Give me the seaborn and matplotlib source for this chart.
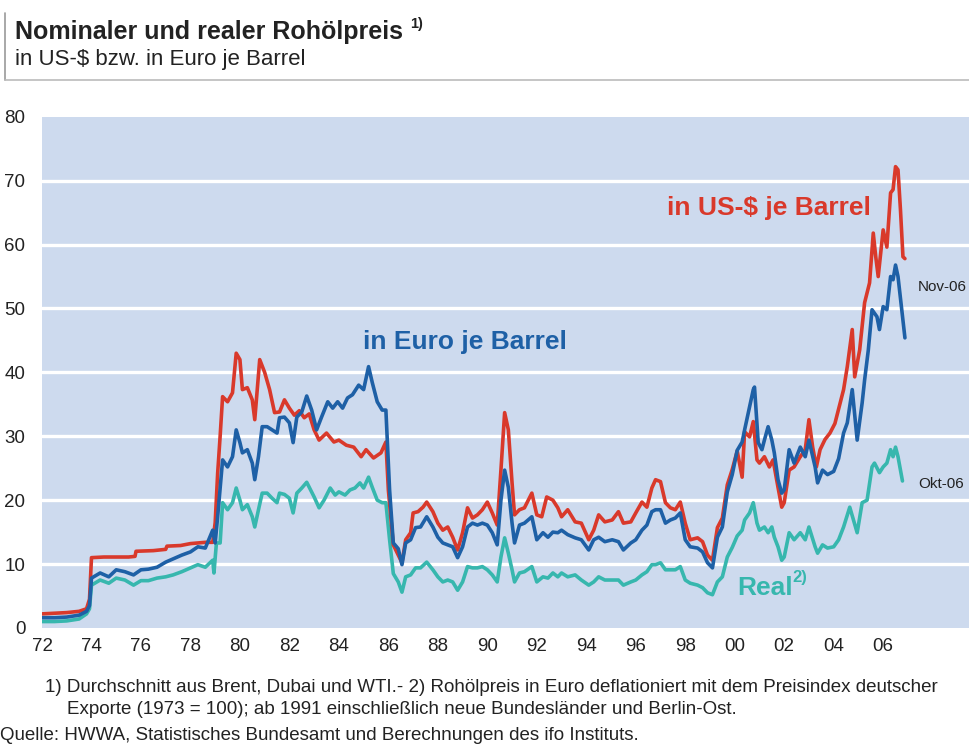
import matplotlib
matplotlib.use("Agg")
import matplotlib.pyplot as plt
import numpy as np
import pandas as pd
import seaborn as sns
from matplotlib.lines import Line2D
from matplotlib.ticker import MultipleLocator

# nominal price in US-$ per barrel (decimal years)
usd_t = [1972.0, 1972.5, 1973.0, 1973.5, 1973.8, 1973.92, 1974.0, 1974.5, 1975.0, 1975.5,
         1975.76, 1975.8, 1976.5, 1977.0, 1977.05, 1977.6, 1978.0, 1978.6, 1978.9, 1979.0,
         1979.1, 1979.2, 1979.3, 1979.5, 1979.7, 1979.85, 1980.0, 1980.1, 1980.3, 1980.5,
         1980.6, 1980.8, 1981.0, 1981.2, 1981.4, 1981.6, 1981.8, 1982.0, 1982.2, 1982.4,
         1982.6, 1982.8, 1983.0, 1983.2, 1983.5, 1983.8, 1984.0, 1984.3, 1984.6, 1984.9,
         1985.1, 1985.4, 1985.7, 1985.9, 1986.0, 1986.2, 1986.4, 1986.55, 1986.7, 1986.9,
         1987.0, 1987.2, 1987.4, 1987.55, 1987.8, 1988.0, 1988.2, 1988.4, 1988.6, 1988.8,
         1989.0, 1989.2, 1989.4, 1989.6, 1989.8, 1990.0, 1990.2, 1990.4, 1990.55, 1990.7,
         1990.85, 1991.0, 1991.1, 1991.3, 1991.5, 1991.8, 1992.0, 1992.2, 1992.4, 1992.65,
         1992.85, 1993.0, 1993.25, 1993.55, 1993.8, 1994.1, 1994.3, 1994.5, 1994.75, 1995.05,
         1995.3, 1995.5, 1995.8, 1996.0, 1996.25, 1996.45, 1996.65, 1996.8, 1997.0, 1997.2,
         1997.4, 1997.6, 1997.8, 1998.0, 1998.2, 1998.5, 1998.7, 1998.9, 1999.1, 1999.3,
         1999.5, 1999.7, 1999.9, 2000.1, 2000.3, 2000.4, 2000.6, 2000.75, 2000.9, 2001.0,
         2001.2, 2001.4, 2001.55, 2001.75, 2001.9, 2002.0, 2002.2, 2002.4, 2002.65, 2002.85,
         2003.0, 2003.15, 2003.3, 2003.45, 2003.65, 2003.85, 2004.05, 2004.25, 2004.4, 2004.55,
         2004.75, 2004.85, 2005.05, 2005.25, 2005.45, 2005.6, 2005.7, 2005.8, 2006.0, 2006.15,
         2006.3, 2006.4, 2006.5, 2006.6, 2006.7, 2006.8, 2006.88]
usd = [2.2, 2.3, 2.4, 2.6, 3.0, 4.5, 11.0, 11.1, 11.1, 11.1,
       11.2, 12.0, 12.1, 12.3, 12.8, 12.9, 13.2, 13.4, 13.4, 16.5,
       24.2, 30.0, 36.2, 35.4, 36.8, 43.0, 42.0, 37.3, 37.6, 35.7,
       32.6, 42.0, 40.0, 37.3, 33.7, 33.8, 35.7, 34.4, 33.3, 34.0,
       32.9, 33.5, 31.0, 29.4, 30.5, 29.1, 29.4, 28.6, 28.3, 26.8,
       27.9, 26.6, 27.4, 29.1, 21.6, 13.0, 11.4, 10.2, 13.8, 14.9,
       18.0, 18.2, 18.9, 19.7, 18.2, 16.4, 15.3, 15.8, 14.2, 12.2,
       14.9, 18.8, 17.2, 17.7, 18.5, 19.7, 18.0, 16.1, 24.7, 33.7,
       31.0, 22.7, 17.7, 18.5, 18.8, 21.1, 17.7, 17.4, 20.5, 20.0,
       18.8, 17.4, 18.5, 16.6, 16.4, 13.8, 15.3, 17.7, 16.6, 16.9,
       18.2, 16.4, 16.6, 18.0, 19.7, 18.9, 21.9, 23.2, 22.9, 19.6,
       18.8, 18.5, 19.7, 16.4, 13.8, 14.1, 13.5, 11.4, 10.6, 15.7,
       17.2, 22.4, 24.8, 27.7, 23.6, 30.7, 29.9, 32.3, 26.3, 25.8,
       26.8, 25.2, 26.3, 22.0, 18.9, 19.6, 24.7, 25.2, 26.8, 27.9,
       32.6, 28.3, 25.2, 27.9, 29.5, 30.5, 32.0, 35.0, 37.3, 40.9,
       46.7, 39.3, 43.5, 50.9, 54.0, 61.8, 58.1, 55.0, 62.3, 59.6,
       68.1, 68.6, 72.2, 71.7, 65.4, 58.1, 57.8]

# nominal price in Euro per barrel
eur_t = [1972.0, 1972.5, 1973.0, 1973.5, 1973.8, 1973.92, 1974.0, 1974.35, 1974.7, 1975.0,
         1975.35, 1975.7, 1976.0, 1976.3, 1976.65, 1977.0, 1977.3, 1977.65, 1978.0, 1978.3,
         1978.6, 1978.9, 1979.0, 1979.1, 1979.3, 1979.5, 1979.7, 1979.85, 1980.0, 1980.1,
         1980.3, 1980.5, 1980.6, 1980.75, 1980.9, 1981.1, 1981.3, 1981.5, 1981.6, 1981.8,
         1982.0, 1982.15, 1982.3, 1982.5, 1982.7, 1982.9, 1983.1, 1983.3, 1983.55, 1983.75,
         1983.95, 1984.15, 1984.35, 1984.55, 1984.8, 1985.0, 1985.2, 1985.35, 1985.55, 1985.75,
         1985.9, 1986.05, 1986.2, 1986.4, 1986.55, 1986.7, 1986.9, 1987.1, 1987.3, 1987.55,
         1987.8, 1988.0, 1988.2, 1988.4, 1988.6, 1988.8, 1989.0, 1989.2, 1989.4, 1989.6,
         1989.8, 1990.0, 1990.2, 1990.4, 1990.55, 1990.7, 1990.85, 1991.0, 1991.1, 1991.3,
         1991.5, 1991.8, 1992.0, 1992.25, 1992.45, 1992.65, 1992.85, 1993.0, 1993.25, 1993.55,
         1993.8, 1994.1, 1994.3, 1994.5, 1994.75, 1995.05, 1995.3, 1995.5, 1995.8, 1996.0,
         1996.25, 1996.45, 1996.65, 1996.8, 1997.0, 1997.2, 1997.4, 1997.6, 1997.8, 1998.0,
         1998.2, 1998.5, 1998.7, 1998.9, 1999.1, 1999.3, 1999.5, 1999.7, 1999.9, 2000.1,
         2000.3, 2000.4, 2000.6, 2000.75, 2000.8, 2000.95, 2001.1, 2001.2, 2001.35, 2001.5,
         2001.6, 2001.75, 2001.9, 2002.0, 2002.2, 2002.4, 2002.65, 2002.85, 2003.0, 2003.25,
         2003.35, 2003.55, 2003.75, 2004.0, 2004.2, 2004.4, 2004.55, 2004.75, 2004.95, 2005.15,
         2005.25, 2005.4, 2005.55, 2005.75, 2005.85, 2006.0, 2006.15, 2006.3, 2006.4, 2006.5,
         2006.6, 2006.75, 2006.88]
eur = [1.6, 1.6, 1.7, 2.0, 2.6, 3.5, 7.8, 8.6, 8.0, 9.1,
       8.8, 8.3, 9.1, 9.2, 9.5, 10.3, 10.8, 11.4, 11.9, 12.7,
       12.5, 15.3, 13.3, 17.4, 26.3, 25.2, 26.8, 31.0, 29.0, 27.4,
       27.9, 25.8, 23.2, 26.8, 31.5, 31.5, 31.0, 30.5, 32.9, 33.0,
       32.1, 29.0, 33.0, 33.8, 36.3, 34.1, 31.0, 33.0, 35.4, 34.4,
       35.4, 34.4, 36.0, 36.5, 38.0, 37.3, 40.9, 38.4, 35.4, 34.1,
       34.1, 21.6, 13.3, 12.4, 9.9, 13.3, 13.8, 15.7, 15.8, 17.4,
       15.8, 14.2, 13.3, 13.0, 12.7, 11.0, 12.7, 15.8, 16.4, 16.1,
       16.4, 16.1, 14.9, 13.0, 20.0, 24.7, 22.0, 16.4, 13.3, 16.1,
       16.4, 17.4, 13.8, 14.9, 14.2, 15.0, 14.9, 15.3, 14.6, 14.1,
       13.8, 12.2, 13.8, 14.2, 13.5, 13.8, 13.5, 12.2, 13.3, 13.8,
       15.3, 16.1, 18.2, 18.5, 18.5, 16.4, 16.9, 17.2, 18.0, 13.8,
       12.7, 12.5, 11.9, 10.2, 9.4, 14.2, 15.8, 21.3, 24.0, 27.8,
       29.1, 31.0, 34.6, 37.3, 37.7, 29.0, 27.9, 29.4, 31.5, 29.4,
       27.4, 23.2, 21.1, 21.6, 27.9, 25.8, 28.3, 26.8, 29.4, 25.2,
       22.7, 24.7, 24.0, 24.5, 26.5, 30.5, 32.1, 37.3, 29.4, 35.2,
       38.8, 43.5, 49.8, 48.7, 46.7, 50.3, 49.8, 55.0, 54.5, 56.8,
       55.0, 49.8, 45.4]

# real price (Euro, deflated, 1973 = 100)
real_t = [1972.0, 1972.5, 1973.0, 1973.5, 1973.8, 1973.92, 1974.0, 1974.35, 1974.7, 1975.0,
          1975.35, 1975.7, 1976.0, 1976.3, 1976.65, 1977.0, 1977.3, 1977.65, 1978.0, 1978.3,
          1978.6, 1978.9, 1978.95, 1979.05, 1979.2, 1979.3, 1979.5, 1979.7, 1979.85, 1980.0,
          1980.1, 1980.3, 1980.5, 1980.6, 1980.75, 1980.9, 1981.1, 1981.3, 1981.5, 1981.6,
          1981.8, 1982.0, 1982.15, 1982.3, 1982.5, 1982.7, 1983.0, 1983.2, 1983.4, 1983.65,
          1983.85, 1984.0, 1984.25, 1984.45, 1984.65, 1984.85, 1985.0, 1985.2, 1985.35, 1985.55,
          1985.75, 1985.9, 1986.05, 1986.2, 1986.4, 1986.55, 1986.7, 1986.9, 1987.1, 1987.3,
          1987.55, 1987.8, 1988.0, 1988.2, 1988.4, 1988.6, 1988.8, 1989.0, 1989.2, 1989.4,
          1989.6, 1989.8, 1990.0, 1990.2, 1990.4, 1990.55, 1990.7, 1990.85, 1991.0, 1991.1,
          1991.3, 1991.5, 1991.8, 1992.0, 1992.25, 1992.45, 1992.65, 1992.85, 1993.0, 1993.25,
          1993.55, 1993.8, 1994.1, 1994.3, 1994.5, 1994.75, 1995.05, 1995.3, 1995.5, 1995.8,
          1996.0, 1996.25, 1996.45, 1996.65, 1996.8, 1997.0, 1997.2, 1997.4, 1997.6, 1997.8,
          1998.0, 1998.2, 1998.5, 1998.7, 1998.9, 1999.1, 1999.3, 1999.5, 1999.7, 1999.9,
          2000.1, 2000.3, 2000.4, 2000.6, 2000.75, 2000.9, 2001.0, 2001.2, 2001.35, 2001.5,
          2001.6, 2001.75, 2001.9, 2002.0, 2002.2, 2002.4, 2002.65, 2002.85, 2003.0, 2003.25,
          2003.35, 2003.55, 2003.75, 2004.0, 2004.2, 2004.4, 2004.65, 2004.8, 2004.95, 2005.15,
          2005.35, 2005.55, 2005.65, 2005.85, 2006.0, 2006.15, 2006.3, 2006.4, 2006.5, 2006.6,
          2006.78]
real = [1.0, 1.0, 1.1, 1.4, 2.2, 3.0, 6.7, 7.5, 7.0, 7.8,
        7.5, 6.7, 7.4, 7.4, 7.8, 8.0, 8.3, 8.8, 9.4, 9.9,
        9.5, 10.6, 8.6, 13.3, 13.3, 19.6, 18.5, 19.6, 21.9, 20.0,
        18.5, 19.3, 17.4, 15.8, 18.5, 21.1, 21.1, 20.3, 19.6, 21.1,
        20.9, 20.3, 18.0, 21.1, 21.9, 22.8, 20.5, 18.8, 20.0, 21.9,
        20.8, 21.3, 20.8, 21.6, 21.9, 22.7, 21.9, 23.6, 22.0, 20.0,
        19.6, 19.6, 13.8, 8.5, 7.2, 5.6, 8.0, 8.3, 9.4, 9.4,
        10.3, 9.1, 8.0, 7.2, 7.5, 7.2, 5.9, 7.2, 9.6, 9.4,
        9.4, 9.6, 9.1, 8.3, 7.2, 11.1, 14.1, 11.7, 9.1, 7.2,
        8.6, 8.8, 9.6, 7.2, 8.0, 7.8, 8.6, 8.0, 8.6, 8.0,
        8.3, 7.5, 6.7, 7.2, 8.0, 7.5, 7.5, 7.5, 6.7, 7.2,
        7.5, 8.3, 8.8, 9.9, 9.9, 10.2, 9.1, 9.1, 9.1, 9.6,
        7.5, 7.0, 6.7, 6.3, 5.5, 5.2, 7.2, 8.0, 11.1, 12.6,
        14.4, 15.3, 16.9, 18.0, 19.6, 16.4, 15.3, 15.8, 14.9, 15.8,
        14.2, 12.7, 10.6, 11.1, 14.9, 13.8, 14.9, 13.8, 15.8, 12.7,
        11.7, 13.0, 12.5, 12.7, 13.8, 15.8, 18.9, 16.9, 14.9, 19.6,
        20.0, 25.2, 25.8, 24.3, 25.2, 25.8, 27.9, 26.8, 28.3, 26.8,
        23.0]

year_ticks = list(range(1972, 2008, 2))
year_labels = [f"{y % 100:02d}" for y in year_ticks]

red = "#D9392B"
blue = "#1E60A6"
teal = "#37B7AE"
bg = "#CDDAEE"
ink = "#222222"

sns.set_style("white", {"axes.facecolor": bg})
plt.rcParams["font.family"] = ["Liberation Sans", "DejaVu Sans"]

fig = plt.figure(figsize=(9.7, 7.44), dpi=100)
ax = fig.add_axes([0.0433, 0.156, 0.9567, 0.687])

df_usd = pd.DataFrame({"t": usd_t, "v": usd})
df_eur = pd.DataFrame({"t": eur_t, "v": eur})
df_real = pd.DataFrame({"t": real_t, "v": real})

sns.lineplot(data=df_real, x="t", y="v", color=teal, lw=2.6, estimator=None, ax=ax)
sns.lineplot(data=df_usd, x="t", y="v", color=red, lw=2.6, estimator=None, ax=ax)
sns.lineplot(data=df_eur, x="t", y="v", color=blue, lw=2.6, estimator=None, ax=ax)

ax.set_xlim(1972, 1972 + (970 - 42) / 24.74)
ax.set_ylim(0, 80)
ax.set_xlabel("")
ax.set_ylabel("")
for s in ax.spines.values():
    s.set_visible(False)

# white horizontal grid
ax.set_yticks(np.arange(0, 81, 10))
for v in range(10, 80, 10):
    ax.axhline(v, color="white", lw=2.4, zorder=1)
ax.tick_params(axis="y", length=0, labelsize=13.5, pad=12, labelcolor=ink)

ax.set_xticks(year_ticks)
ax.set_xticklabels(year_labels)
ax.xaxis.set_minor_locator(MultipleLocator(1))
ax.tick_params(axis="x", which="both", direction="in", color="white", width=1.6,
               length=6, labelsize=13.5, labelcolor=ink, pad=7)
ax.tick_params(axis="x", which="minor", labelbottom=False)

# series labels
ax.text(1989.1, 44.8, "in Euro je Barrel", color=blue, fontsize=19, fontweight="bold",
        ha="center", va="center")
ax.text(2001.4, 65.8, "in US-$ je Barrel", color=red, fontsize=19, fontweight="bold",
        ha="center", va="center")
ax.text(2000.1, 6.3, "Real", color=teal, fontsize=19, fontweight="bold",
        ha="left", va="center")
ax.text(2002.35, 7.9, "2)", color=teal, fontsize=12, fontweight="bold",
        ha="left", va="center")
ax.text(2007.4, 53.4, "Nov-06", color=ink, fontsize=11, ha="left", va="center")
ax.text(2007.4, 22.5, "Okt-06", color=ink, fontsize=11, ha="left", va="center")

# header
fig.text(15 / 970, 1 - 32 / 744, "Nominaler und realer Rohölpreis", fontsize=18,
         fontweight="bold", color=ink, ha="left", va="center")
fig.text(410 / 970, 1 - 24 / 744, "1)", fontsize=10.5, fontweight="bold", color=ink,
         ha="left", va="center")
fig.text(15 / 970, 1 - 60 / 744, "in US-$ bzw. in Euro je Barrel", fontsize=16,
         color=ink, ha="left", va="center")
fig.add_artist(Line2D([5 / 970, 5 / 970], [1 - 13 / 744, 1 - 80 / 744],
                      transform=fig.transFigure, color="#999999", lw=1.2))
fig.add_artist(Line2D([5 / 970, 1.0], [1 - 80 / 744, 1 - 80 / 744],
                      transform=fig.transFigure, color="#BBBBBB", lw=1.2))

# footnotes
fig.text(45 / 970, 1 - 687 / 744,
         "1) Durchschnitt aus Brent, Dubai und WTI.- 2) Rohölpreis in Euro deflationiert "
         "mit dem Preisindex deutscher", fontsize=13.5, color=ink, ha="left", va="center")
fig.text(67 / 970, 1 - 710 / 744,
         "Exporte (1973 = 100); ab 1991 einschließlich neue Bundesländer und Berlin-Ost.",
         fontsize=13.5, color=ink, ha="left", va="center")
fig.text(0, 1 - 736 / 744,
         "Quelle: HWWA, Statistisches Bundesamt und Berechnungen des ifo Instituts.",
         fontsize=13.5, color=ink, ha="left", va="center")

fig.savefig("out.png", dpi=100)
